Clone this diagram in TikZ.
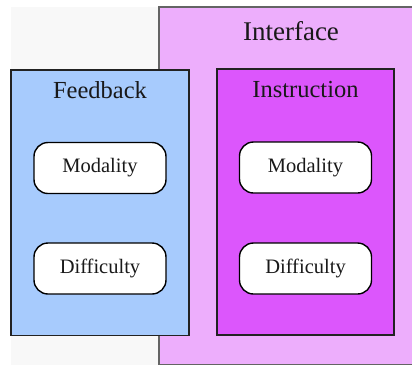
\documentclass[tikz,border=0pt]{standalone}
\usepackage{fontspec}
\setmainfont{Liberation Serif}
\definecolor{bggray}{HTML}{F8F8F8}
\definecolor{ifacecol}{HTML}{EDAEFC}
\definecolor{fbcol}{HTML}{A7CBFD}
\definecolor{inscol}{HTML}{DC56FC}
\definecolor{edgecol}{HTML}{222222}
\tikzset{
  panel/.style={draw=edgecol, line width=1.1pt, inner sep=0pt},
  itembox/.style={draw=black, line width=1.4pt, fill=white, rounded corners=14pt,
    minimum width=132pt, minimum height=51pt, inner sep=0pt,
    font=\fontsize{20.5}{24}\selectfont, text=black!90},
  paneltitle/.style={anchor=base, inner sep=0pt, font=\fontsize{24.5}{29}\selectfont, text=black!90},
  bigtitle/.style={anchor=base, inner sep=0pt, font=\fontsize{27}{32}\selectfont, text=black!90}
}
\begin{document}
\begin{tikzpicture}[x=1pt,y=-1pt]
\useasboundingbox (0,0) rectangle (412,365);
\fill[bggray] (11,6.5) rectangle (412,364.5);
\begin{scope}
\clip (0,0) rectangle (412,365);
\node[panel, fill=ifacecol, draw=edgecol!70, minimum width=256pt, minimum height=357.5pt] (iface) at (287,185.75) {};
\end{scope}
\node[panel, fill=fbcol, minimum width=178pt, minimum height=265.5pt] (fb) at (100,202.75) {};
\node[panel, fill=inscol, minimum width=177pt, minimum height=266pt] (ins) at (305.5,202) {};
\node[bigtitle] (ifacetitle) at (291,40.7) {Interface};
\node[paneltitle] (fbtitle) at (100,98.3) {Feedback};
\node[paneltitle] (institle) at (305.5,97.3) {Instruction};
\node[itembox] (fbmod) at (100,168) {Modality};
\node[itembox] (fbdiff) at (100,268.5) {Difficulty};
\node[itembox] (insmod) at (305.5,167.5) {Modality};
\node[itembox] (insdiff) at (305.5,268.5) {Difficulty};
\end{tikzpicture}
\end{document}
